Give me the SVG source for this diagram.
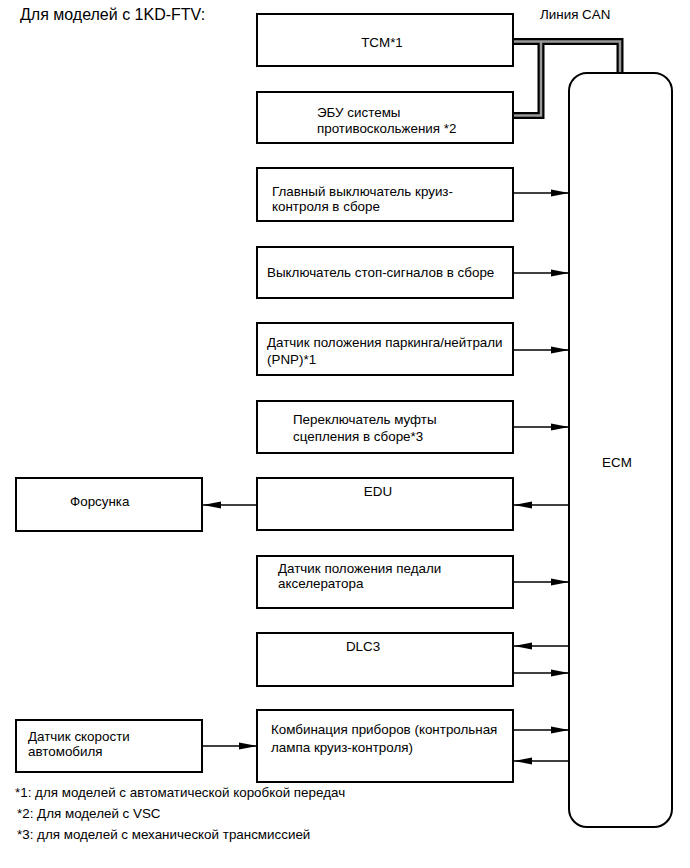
<svg xmlns="http://www.w3.org/2000/svg" width="690" height="868" viewBox="0 0 690 868">
<style>
.box{fill:#fff;stroke:#000;stroke-width:2}
.t{font-family:"Liberation Sans",Arial,sans-serif;font-size:13.4px;fill:#000}
.c{text-anchor:middle}
.ln{stroke:#000;stroke-width:1.3;fill:none;marker-end:url(#ah)}
.canb{stroke:#000;stroke-width:7;fill:none;stroke-linejoin:miter}
.cang{stroke:#999;stroke-width:2.5;fill:none;stroke-linejoin:miter}
</style>
<defs>
<marker id="ah" markerWidth="18" markerHeight="8" refX="18" refY="4" orient="auto" markerUnits="userSpaceOnUse">
<path d="M0,0.6 L18,4 L0,7.4 z" fill="#000"/>
</marker>
</defs>
<rect width="690" height="868" fill="#fff"/>
<text class="t" x="20" y="20" style="font-size:16px">Для моделей с 1KD-FTV:</text>
<text class="t" x="540" y="19">Линия CAN</text>

<g id="connectors">
<path class="canb" d="M513,41.5 H620 V74"/>
<path class="canb" d="M541,41.5 V115.5 H513"/>
<path class="cang" d="M513,41.5 H620 V74"/>
<path class="cang" d="M541,41.5 V115.5 H513"/>
<line class="ln" x1="513" y1="193" x2="569" y2="193"/>
<line class="ln" x1="513" y1="273" x2="569" y2="273"/>
<line class="ln" x1="513" y1="350" x2="569" y2="350"/>
<line class="ln" x1="513" y1="427" x2="569" y2="427"/>
<line class="ln" x1="569" y1="505" x2="514" y2="505"/>
<line class="ln" x1="257" y1="505" x2="203" y2="505"/>
<line class="ln" x1="513" y1="582" x2="569" y2="582"/>
<line class="ln" x1="569" y1="646" x2="514" y2="646"/>
<line class="ln" x1="513" y1="673" x2="569" y2="673"/>
<line class="ln" x1="513" y1="730" x2="569" y2="730"/>
<line class="ln" x1="569" y1="761" x2="514" y2="761"/>
<line class="ln" x1="202" y1="746" x2="257" y2="746"/>
</g>

<g id="ecm">
<rect class="box" x="569" y="73" width="103" height="754" rx="18" ry="18"/>
<text class="t c" x="617" y="467">ECM</text>
</g>
<g id="tcm">
<rect class="box" x="257" y="14" width="256" height="52"/>
<text class="t c" x="382" y="47">TCM*1</text>
</g>
<g id="ebu">
<rect class="box" x="257" y="92" width="256" height="51"/>
<text class="t" x="317" y="117">ЭБУ системы</text>
<text class="t" x="317" y="133">противоскольжения *2</text>
</g>
<g id="main-switch">
<rect class="box" x="257" y="168" width="256" height="53"/>
<text class="t" x="272" y="196">Главный выключатель круиз-</text>
<text class="t" x="272" y="211">контроля в сборе</text>
</g>
<g id="stop-switch">
<rect class="box" x="257" y="247" width="256" height="51"/>
<text class="t" x="267" y="277">Выключатель стоп-сигналов в сборе</text>
</g>
<g id="pnp">
<rect class="box" x="257" y="323" width="256" height="52"/>
<text class="t" x="267" y="347">Датчик положения паркинга/нейтрали</text>
<text class="t" x="267" y="364">(PNP)*1</text>
</g>
<g id="clutch">
<rect class="box" x="257" y="401" width="256" height="52"/>
<text class="t" x="293" y="424">Переключатель муфты</text>
<text class="t" x="293" y="441">сцепления в сборе*3</text>
</g>
<g id="edu">
<rect class="box" x="257" y="478" width="256" height="52"/>
<text class="t c" x="378" y="496">EDU</text>
</g>
<g id="injector">
<rect class="box" x="16" y="478" width="186" height="53"/>
<text class="t" x="70" y="506">Форсунка</text>
</g>
<g id="accel">
<rect class="box" x="257" y="556" width="256" height="52"/>
<text class="t" x="278" y="573">Датчик положения педали</text>
<text class="t" x="278" y="588">акселератора</text>
</g>
<g id="dlc3">
<rect class="box" x="257" y="633" width="256" height="53"/>
<text class="t c" x="363" y="651">DLC3</text>
</g>
<g id="combination">
<rect class="box" x="257" y="710" width="256" height="72"/>
<text class="t" x="271" y="734">Комбинация приборов (контрольная</text>
<text class="t" x="271" y="752">лампа круиз-контроля)</text>
</g>
<g id="speed-sensor">
<rect class="box" x="16" y="720" width="186" height="52"/>
<text class="t" x="28" y="741">Датчик скорости</text>
<text class="t" x="28" y="756">автомобиля</text>
</g>
<g id="notes">
<text class="t" x="15" y="797">*1: для моделей с автоматической коробкой передач</text>
<text class="t" x="17" y="818">*2: Для моделей с VSC</text>
<text class="t" x="17" y="839">*3: для моделей с механической трансмиссией</text>
</g>
</svg>
